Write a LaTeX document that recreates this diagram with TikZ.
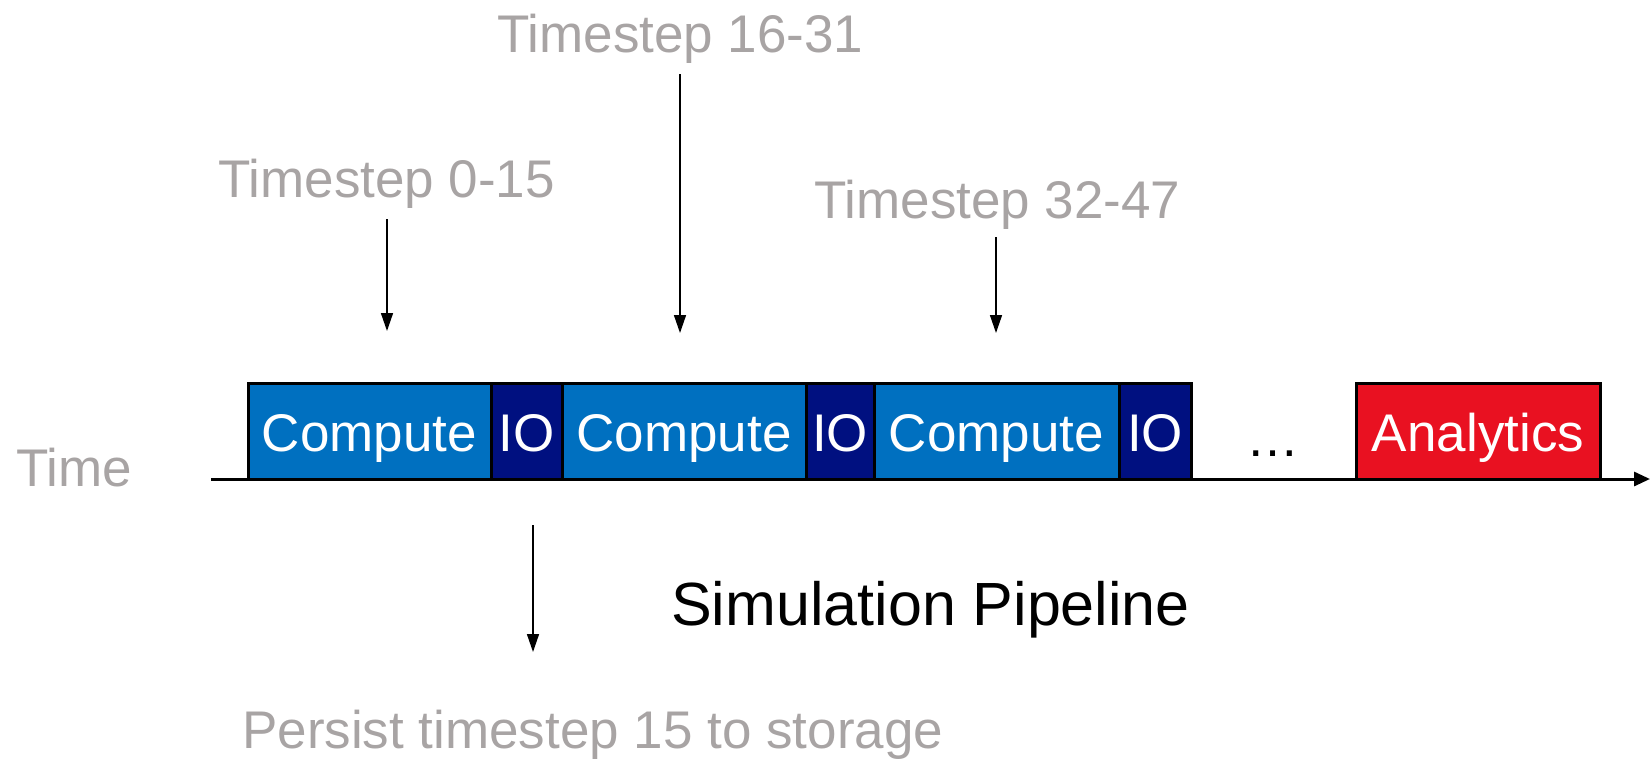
\documentclass[tikz,border=0pt]{standalone}
\usepackage{fontspec}
\setmainfont{Liberation Sans}
\usetikzlibrary{arrows.meta}
\definecolor{computeblue}{RGB}{0,112,192}
\definecolor{ionavy}{RGB}{0,16,128}
\definecolor{analyticsred}{RGB}{233,17,33}
\definecolor{labelgrey}{RGB}{168,164,164}
\tikzset{
  lbl/.style={inner sep=0pt, anchor=base west, text=labelgrey, font=\fontsize{53}{60}\selectfont},
  stage/.style={draw=black, line width=3pt, minimum height=96pt, inner sep=0pt,
    text=white, font=\fontsize{53}{60}\selectfont, text height=40pt, text depth=0pt},
  computebox/.style={stage, fill=computeblue},
  iobox/.style={stage, fill=ionavy},
  analyticsbox/.style={stage, fill=analyticsred},
  pointer/.style={draw=black, line width=1.5pt, -{Triangle[length=18pt,width=12pt]}},
  timeaxis/.style={draw=black, line width=3pt, -{Triangle[length=16pt,width=14pt]}}
}
\begin{document}
\begin{tikzpicture}[x=1pt,y=-1pt]
\useasboundingbox (0,0) rectangle (1652,761);

% time axis
\coordinate (axisstart) at (211,479);
\coordinate (axisend) at (1650,479);
\draw[timeaxis] (axisstart) -- (axisend);
\node[lbl] (time) at (16,486) {Time};

% pipeline stages
\node[computebox, minimum width=243pt] (c1) at (369.5,431) {Compute};
\node[iobox, minimum width=71pt] (io1) at (526.5,431) {IO};
\node[computebox, minimum width=244pt] (c2) at (684,431) {Compute};
\node[iobox, minimum width=68pt] (io2) at (840,431) {IO};
\node[computebox, minimum width=245pt] (c3) at (996.5,431) {Compute};
\node[iobox, minimum width=72pt] (io3) at (1155,431) {IO};
\node[inner sep=0pt, anchor=base, font=\fontsize{53}{60}\selectfont] (dots) at (1273,456) {…};
\node[analyticsbox, minimum width=244pt] (an) at (1478,431) {Analytics};

% timestep labels and their pointers
\node[lbl] (t0) at (218,197) {Timestep 0-15};
\node[lbl] (t1) at (497,52) {Timestep 16-31};
\node[lbl] (t2) at (814,218) {Timestep 32-47};
\coordinate (t0s) at (387,219);
\coordinate (t0e) at (387,331);
\coordinate (t1s) at (680,74);
\coordinate (t1e) at (680,333);
\coordinate (t2s) at (996,237);
\coordinate (t2e) at (996,333);
\draw[pointer] (t0s) -- (t0e);
\draw[pointer] (t1s) -- (t1e);
\draw[pointer] (t2s) -- (t2e);

% persistence of the IO step
\coordinate (ps) at (533,525);
\coordinate (pe) at (533,652);
\draw[pointer] (ps) -- (pe);
\node[lbl] (persist) at (242,748) {Persist timestep 15 to storage};

\node[inner sep=0pt, anchor=base west, font=\fontsize{61}{68}\selectfont] (title) at (671,625) {Simulation Pipeline};
\end{tikzpicture}
\end{document}
